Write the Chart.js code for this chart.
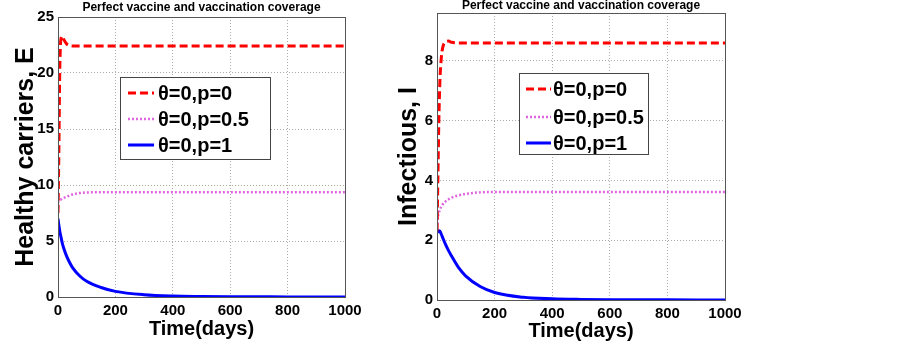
<!DOCTYPE html>
<html>
<head>
<meta charset="utf-8">
<script src="https://cdn.jsdelivr.net/npm/chart.js@4"></script>
<style>
  body { margin: 0; background: #fff; }
  #wrap { position: relative; width: 903px; height: 343px; }
  canvas { position: absolute; top: 0; }
</style>
</head>
<body>
<div id="wrap">
  <canvas id="graficoE" width="380" height="343" style="left:0px"></canvas>
  <canvas id="graficoI" width="380" height="343" style="left:380px"></canvas>
</div>
<script>
// Datos
const dias = [0, 3, 6, 10, 15, 20, 30, 40, 50, 75, 100, 150, 200, 300, 400, 500, 600, 800, 1000];

// Portadores sanos, E
const E_p0  = [7.5, 13, 20, 23.0, 23.3, 23.0, 22.6, 22.45, 22.4, 22.4, 22.4, 22.4, 22.4, 22.4, 22.4, 22.4, 22.4, 22.4, 22.4];
const E_p05 = [8.4, 8.6, 8.65, 8.7, 8.8, 8.85, 8.95, 9.05, 9.15, 9.28, 9.33, 9.35, 9.35, 9.35, 9.35, 9.35, 9.35, 9.35, 9.35];
const E_p1  = [7.0, 6.4, 5.9, 5.4, 4.8, 4.35, 3.65, 3.1, 2.65, 1.9, 1.4, 0.85, 0.5, 0.2, 0.08, 0.04, 0.02, 0.01, 0];

// Infecciosos, I
const I_p0  = [2.3, 4.0, 5.8, 7.3, 8.1, 8.45, 8.63, 8.66, 8.62, 8.6, 8.6, 8.6, 8.6, 8.6, 8.6, 8.6, 8.6, 8.6, 8.6];
const I_p05 = [2.4, 2.75, 2.9, 3.02, 3.12, 3.2, 3.3, 3.37, 3.42, 3.5, 3.55, 3.6, 3.61, 3.61, 3.61, 3.61, 3.61, 3.61, 3.61];
const I_p1  = [2.25, 2.3, 2.32, 2.3, 2.2, 2.08, 1.85, 1.65, 1.48, 1.08, 0.8, 0.45, 0.25, 0.09, 0.04, 0.02, 0.01, 0.005, 0];

const etiquetas = ['\u03b8=0,p=0', '\u03b8=0,p=0.5', '\u03b8=0,p=1'];
const titulo = 'Perfect vaccine and vaccination coverage';
const ticksX = [0, 200, 400, 600, 800, 1000];

const FUENTE = '"Liberation Sans", Arial, sans-serif';

const estilos = [
    { color: '#ff0000', width: 3, dash: [8, 4] },
    { color: '#e066e0', width: 2.5, dash: [2, 2] },
    { color: '#0000ff', width: 3, dash: [] }
];

function puntos(ys) {
    return dias.map((t, i) => ({ x: t, y: ys[i] }));
}

// Plugin: titulo, marco y leyenda dentro del grafico
const decoracion = {
    id: 'decoracion',
    afterDraw(chart, args, opts) {
        const ctx = chart.ctx;
        const a = chart.chartArea;
        ctx.save();
        // marco
        ctx.strokeStyle = '#555';
        ctx.lineWidth = 1;
        ctx.strokeRect(a.left + 0.5, a.top + 0.5, a.right - a.left, a.bottom - a.top);
        // titulo
        ctx.fillStyle = '#000';
        ctx.font = 'bold 12px ' + FUENTE;
        ctx.textAlign = 'center';
        ctx.textBaseline = 'middle';
        ctx.fillText(titulo, (a.left + a.right) / 2, opts.tituloY);
        // leyenda
        const L = opts.leyenda;
        ctx.fillStyle = '#fff';
        ctx.fillRect(L.x, L.y, L.w, L.h);
        ctx.strokeStyle = '#444';
        ctx.strokeRect(L.x + 0.5, L.y + 0.5, L.w, L.h);
        ctx.font = 'bold 20px ' + FUENTE;
        ctx.textAlign = 'left';
        chart.data.datasets.forEach((ds, i) => {
            const y = L.y + L.filas[i];
            ctx.strokeStyle = ds.borderColor;
            ctx.lineWidth = ds.borderWidth;
            ctx.setLineDash(ds.borderDash);
            ctx.beginPath();
            ctx.moveTo(L.x + L.linea[0], y);
            ctx.lineTo(L.x + L.linea[1], y);
            ctx.stroke();
            ctx.setLineDash([]);
            ctx.fillStyle = '#000';
            ctx.fillText(ds.label, L.x + L.texto, y + 1);
        });
        ctx.restore();
    }
};

function crearGrafico(canvasId, series, cfg) {
    const ctx = document.getElementById(canvasId).getContext('2d');
    return new Chart(ctx, {
        type: 'scatter',
        data: {
            datasets: series.map((ys, i) => ({
                label: etiquetas[i],
                data: puntos(ys),
                showLine: true,
                borderColor: estilos[i].color,
                backgroundColor: estilos[i].color,
                borderWidth: estilos[i].width,
                borderDash: estilos[i].dash,
                pointRadius: 0,
                cubicInterpolationMode: 'monotone'
            }))
        },
        options: {
            responsive: false,
            animation: false,
            layout: { padding: { left: cfg.padIzq, right: cfg.padDer, top: cfg.padSup, bottom: 0 } },
            plugins: {
                legend: { display: false },
                tooltip: { enabled: false },
                decoracion: { tituloY: cfg.tituloY, leyenda: cfg.leyenda }
            },
            scales: {
                x: {
                    type: 'linear',
                    min: 0,
                    max: 1000,
                    afterBuildTicks: s => { s.ticks = ticksX.map(v => ({ value: v })); },
                    afterFit: s => { s.height = cfg.altoX; s.paddingLeft = 0; s.paddingRight = 0; },
                    grid: { color: '#aaa', drawTicks: false },
                    border: { display: false, dash: [1, 2] },
                    ticks: { color: '#000', font: { family: FUENTE, size: 15, weight: 'bold' }, padding: 5, maxRotation: 0, callback: v => String(v) },
                    title: { display: true, text: 'Time(days)', color: '#000', font: { family: FUENTE, size: 20, weight: 'bold' }, padding: { top: 0, bottom: cfg.padTituloX } }
                },
                y: {
                    min: 0,
                    max: cfg.yMax,
                    afterBuildTicks: s => { s.ticks = cfg.ticksY.map(v => ({ value: v })); },
                    afterFit: s => { s.width = cfg.anchoY; },
                    grid: { color: '#aaa', drawTicks: false },
                    border: { display: false, dash: [1, 2] },
                    ticks: { color: '#000', font: { family: FUENTE, size: 15, weight: 'bold' }, padding: 4, callback: v => String(v) },
                    title: { display: true, text: cfg.tituloY_eje, color: '#000', font: { family: FUENTE, size: 25, weight: 'bold' }, padding: { top: 0, bottom: 0 } }
                }
            }
        },
        plugins: [decoracion]
    });
}

crearGrafico('graficoE', [E_p0, E_p05, E_p1], {
    padIzq: 11, padDer: 35, padSup: 17,
    anchoY: 47, altoX: 46, padTituloX: 2,
    yMax: 25, ticksY: [0, 5, 10, 15, 20, 25],
    tituloY: 8,
    tituloY_eje: 'Healthy carriers, E',
    leyenda: { x: 120, y: 77, w: 150, h: 82, filas: [16, 42, 68], linea: [8, 34], texto: 38 }
});

crearGrafico('graficoI', [I_p0, I_p05, I_p1], {
    padIzq: 14, padDer: 35, padSup: 13,
    anchoY: 43, altoX: 43, padTituloX: 0,
    yMax: 9.6, ticksY: [0, 2, 4, 6, 8],
    tituloY: 6,
    tituloY_eje: 'Infectious, I',
    leyenda: { x: 139, y: 73, w: 129, h: 81, filas: [16, 44, 70], linea: [7, 32], texto: 34 }
});
</script>
</body>
</html>
